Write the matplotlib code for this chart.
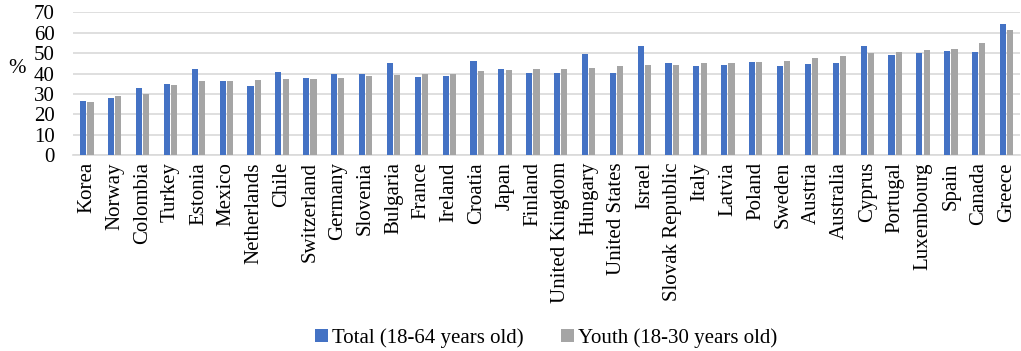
import numpy as np
import matplotlib
matplotlib.use("Agg")
from matplotlib import pyplot as plt

countries = ["Korea", "Norway", "Colombia", "Turkey", "Estonia", "Mexico", "Netherlands",
             "Chile", "Switzerland", "Germany", "Slovenia", "Bulgaria", "France", "Ireland",
             "Croatia", "Japan", "Finland", "United Kingdom", "Hungary", "United States",
             "Israel", "Slovak Republic", "Italy", "Latvia", "Poland", "Sweden", "Austria",
             "Australia", "Cyprus", "Portugal", "Luxembourg", "Spain", "Canada", "Greece"]
total = [26.5, 28.0, 32.7, 34.7, 42.4, 36.1, 33.9, 40.6, 37.6, 39.7, 39.6, 45.0, 38.1, 38.8,
         46.0, 42.4, 40.4, 40.2, 49.6, 40.1, 53.6, 45.3, 43.5, 44.0, 45.8, 43.7, 44.8,
         45.3, 53.3, 49.1, 50.0, 50.9, 50.7, 64.3]
youth = [25.8, 28.8, 30.1, 34.3, 36.1, 36.3, 37.0, 37.1, 37.3, 37.8, 38.9, 39.4, 39.6, 39.6,
         41.1, 41.7, 42.2, 42.2, 42.7, 43.8, 44.0, 44.2, 45.0, 45.3, 45.8, 46.3, 47.4,
         48.7, 50.0, 50.4, 51.4, 52.2, 55.0, 61.2]

plt.rcParams['font.family'] = ['Liberation Serif', 'DejaVu Serif']

fig = plt.figure(figsize=(10.21, 3.51), dpi=100)
ax = fig.add_axes([0.0715, 0.558, 0.928, 0.407])

x = np.arange(len(countries))
w = 0.22
ax.bar(x - w / 2 - 0.02, total, w, color="#4472C4", label="Total (18-64 years old)", zorder=3)
ax.bar(x + w / 2 + 0.02, youth, w, color="#A5A5A5", label="Youth (18-30 years old)", zorder=3)

ax.set_ylim(0, 70)
ax.set_xlim(-0.5, len(countries) - 0.5)
ax.set_yticks(range(0, 71, 10))
ax.yaxis.grid(True, color="#D9D9D9", linewidth=1.2, zorder=0)
for s in ["top", "right", "left"]:
    ax.spines[s].set_visible(False)
ax.spines["bottom"].set_color("#D9D9D9")
ax.spines["bottom"].set_linewidth(1.2)
ax.tick_params(axis="both", length=0, labelsize=15)
ax.tick_params(axis="y", pad=13)
ax.tick_params(axis="x", pad=5)
ax.set_xticks(x)
ax.set_xticklabels(countries, rotation=90)

fig.text(0.008, 0.805, "%", fontsize=15, va="center")

fig.legend(loc="lower center", bbox_to_anchor=(0.535, -0.045), ncol=2, frameon=False,
           fontsize=15, handlelength=0.6, handleheight=0.6, handletextpad=0.2,
           columnspacing=1.8)

fig.savefig("out.png", dpi=100)
